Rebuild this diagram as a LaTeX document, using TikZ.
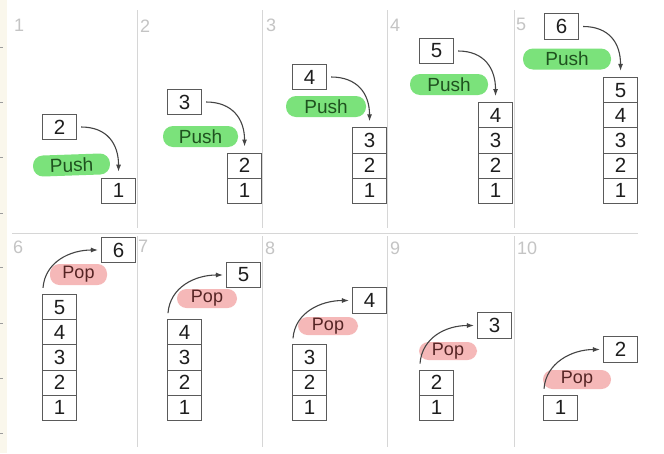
\documentclass[tikz,border=0pt]{standalone}
\usepackage{fontspec}
\setmainfont{Liberation Sans}
\usetikzlibrary{arrows.meta}
\definecolor{boxline}{HTML}{5A5A5A}
\definecolor{digit}{HTML}{1E1E1E}
\definecolor{divider}{HTML}{D6D6D6}
\definecolor{paneltext}{HTML}{C4C4C4}
\definecolor{pushfill}{HTML}{7BE27B}
\definecolor{pushtext}{HTML}{1F521F}
\definecolor{popfill}{HTML}{F5B8B8}
\definecolor{poptext}{HTML}{552424}
\definecolor{arrowcol}{HTML}{444444}
\definecolor{edgestrip}{HTML}{FAF7EC}
\newcommand\stackcol[4]{%
  \foreach \i in {1,...,#4}{%
    \node[cell,anchor=south west] (#1-\i) at (#2,{#3-25.2*(\i-1)}) {\i};}}
\begin{document}
\begin{tikzpicture}[x=1pt,y=-1pt,
  cell/.style={draw=boxline,line width=1.1pt,fill=white,minimum width=34pt,
    minimum height=25.2pt,inner sep=0pt,text=digit,font=\fontsize{20.5}{20.5}\selectfont},
  pushpill/.style={fill=pushfill,rounded corners=10pt,inner sep=0pt,text=pushtext,
    minimum height=21pt,font=\fontsize{19}{19}\selectfont},
  poppill/.style={fill=popfill,rounded corners=9.5pt,inner sep=0pt,text=poptext,
    minimum height=19pt,font=\fontsize{18}{18}\selectfont},
  plabel/.style={anchor=base west,inner sep=0pt,text=paneltext,font=\fontsize{18}{18}\selectfont},
  divline/.style={draw=divider,line width=1pt},
  arr/.style={draw=arrowcol,line width=1.1pt,-{Latex[length=7pt,width=5pt]}}]
\useasboundingbox (0,0) rectangle (664,453);
\fill[white] (0,0) rectangle (664,453);
\fill[edgestrip] (0,0) rectangle (7,453);
\foreach \t in {47,102,157,213,267,323,378,433}{\draw[boxline!60,line width=0.8pt] (0,\t) -- (3,\t);}
% dividers
\foreach \dx in {137,262,387,514}{
  \draw[divline] (\dx,10) -- (\dx,228);
  \draw[divline] (\dx,236) -- (\dx,447);}
\draw[divline] (12,233) -- (638,233);
% panel labels
\node[plabel] (l1) at (14,31) {1};
\node[plabel] (l2) at (140,32) {2};
\node[plabel] (l3) at (266,31) {3};
\node[plabel] (l4) at (390,31) {4};
\node[plabel] (l5) at (516,30) {5};
\node[plabel] (l6) at (13,253) {6};
\node[plabel] (l7) at (138,252) {7};
\node[plabel] (l8) at (265,254) {8};
\node[plabel] (l9) at (390,254) {9};
\node[plabel] (l10) at (517,254) {10};
% ---------- push panels ----------
\stackcol{sa}{101}{204}{1}
\stackcol{sb}{227}{204}{2}
\stackcol{sc}{352}{204}{3}
\stackcol{sd}{478}{204}{4}
\stackcol{se}{603}{204}{5}
\node[pushpill,minimum width=77pt,rotate=2] (pa) at (71.5,165) {Push};
\node[pushpill,minimum width=75pt] (pb) at (200.5,136.5) {Push};
\node[pushpill,minimum width=80pt] (pc) at (326,106.5) {Push};
\node[pushpill,minimum width=78pt] (pd) at (449,84.5) {Push};
\node[pushpill,minimum width=88pt] (pe) at (567,59) {Push};
\node[cell] (na) at (59.5,127) {2};
\node[cell] (nb) at (184.5,102) {3};
\node[cell] (nc) at (309.5,77) {4};
\node[cell] (nd) at (436.5,51) {5};
\node[cell] (ne) at (561.5,26.5) {6};
\draw[arr] ([xshift=4pt]na.east) .. controls +(26,0) and +(0,-28) .. ([yshift=6pt]sa-1.north);
\draw[arr] ([xshift=4pt]nb.east) .. controls +(26,0) and +(0,-28) .. ([yshift=6pt]sb-2.north);
\draw[arr] ([xshift=4pt]nc.east) .. controls +(26,0) and +(0,-28) .. ([yshift=6pt]sc-3.north);
\draw[arr] ([xshift=4pt]nd.east) .. controls +(26,0) and +(0,-28) .. ([yshift=6pt]sd-4.north);
\draw[arr] ([xshift=4pt]ne.east) .. controls +(26,0) and +(0,-28) .. ([yshift=6pt]se-5.north);
% ---------- pop panels ----------
\stackcol{sf}{42}{421}{5}
\stackcol{sg}{167}{421}{4}
\stackcol{sh}{292}{421}{3}
\stackcol{si}{419}{421}{2}
\stackcol{sj}{543}{421}{1}
\node[poppill,minimum width=57pt,minimum height=21pt] (pf) at (78.5,274.5) {Pop};
\node[poppill,minimum width=60pt] (pg) at (207,298.5) {Pop};
\node[poppill,minimum width=60pt,minimum height=18pt] (ph) at (328,326) {Pop};
\node[poppill,minimum width=58pt,minimum height=18pt] (pi) at (448,351) {Pop};
\node[poppill,minimum width=68pt] (pj) at (577,379.5) {Pop};
\node[cell] (qf) at (118.5,250) {6};
\node[cell] (qg) at (243.5,275) {5};
\node[cell] (qh) at (369.5,300.5) {4};
\node[cell] (qi) at (494.5,325.5) {3};
\node[cell] (qj) at (620.5,349.5) {2};
\draw[arr] ([xshift=1pt,yshift=6pt]sf-5.north west) .. controls +(2,-26) and +(-28,0) .. ([xshift=-3pt]qf.west);
\draw[arr] ([xshift=1pt,yshift=6pt]sg-4.north west) .. controls +(2,-26) and +(-28,0) .. ([xshift=-3pt]qg.west);
\draw[arr] ([xshift=1pt,yshift=6pt]sh-3.north west) .. controls +(2,-26) and +(-28,0) .. ([xshift=-3pt]qh.west);
\draw[arr] ([xshift=1pt,yshift=6pt]si-2.north west) .. controls +(2,-26) and +(-28,0) .. ([xshift=-3pt]qi.west);
\draw[arr] ([xshift=1pt,yshift=6pt]sj-1.north west) .. controls +(2,-26) and +(-28,0) .. ([xshift=-3pt]qj.west);
\end{tikzpicture}
\end{document}
